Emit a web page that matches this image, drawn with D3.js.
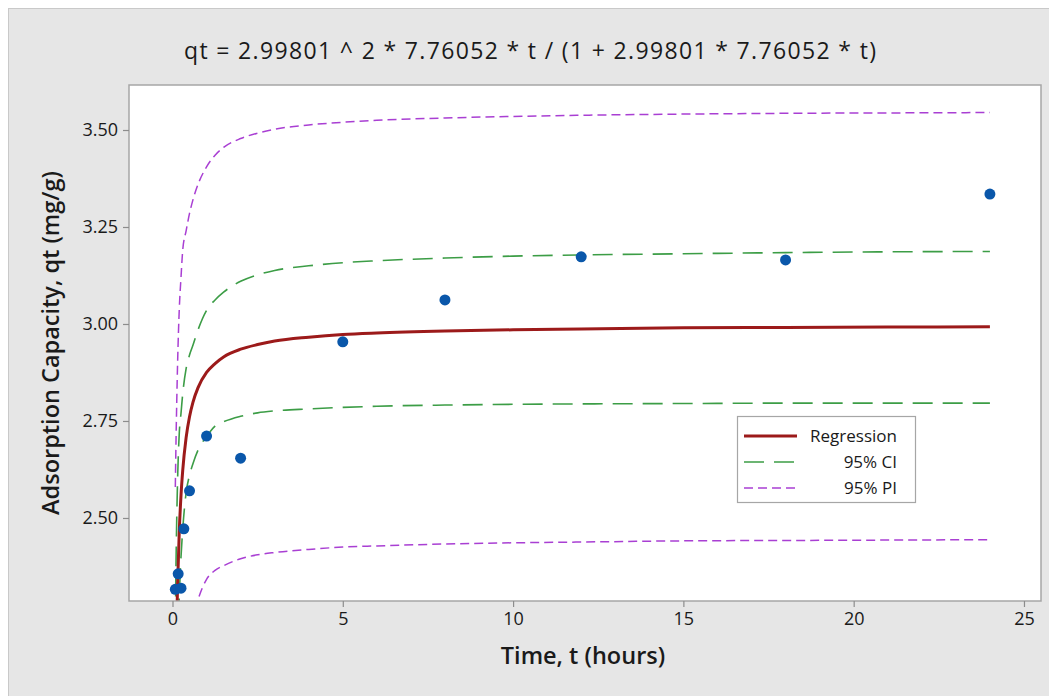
<!DOCTYPE html>
<html>
<head>
<meta charset="utf-8">
<script src="https://cdn.jsdelivr.net/npm/d3@7/dist/d3.min.js"></script>
<style>
  html, body { margin: 0; padding: 0; background: #ffffff; }
  svg { display: block; }
  text { font-family: "Open Sans", "Noto Sans", sans-serif; fill: #1a1a1a; }
</style>
</head>
<body>
<svg id="chart" width="1049" height="696"></svg>
<script>
// ---- Data ----
const titleText = "qt = 2.99801 ^ 2 * 7.76052 * t / (1 + 2.99801 * 7.76052 * t)";
const xLabel = "Time, t (hours)";
const yLabel = "Adsorption Capacity, qt (mg/g)";

// observed data points
const obsTime = [0.083, 0.167, 0.25, 0.333, 0.5, 1, 2, 5, 8, 12, 18, 24];
const obsQt   = [2.316, 2.356, 2.319, 2.472, 2.570, 2.711, 2.654, 2.954, 3.062, 3.173, 3.165, 3.335];

// time grid for the fitted curves
const curveTime = [0.083, 0.1, 0.125, 0.15, 0.2, 0.25, 0.3, 0.4, 0.5, 0.6, 0.75, 1, 1.25, 1.5, 2, 2.5, 3, 4, 5, 6, 8, 10, 12, 15, 18, 21, 24];
const regression = [1.975, 2.097, 2.231, 2.330, 2.468, 2.558, 2.622, 2.707, 2.761, 2.798, 2.836, 2.875, 2.898, 2.915, 2.935, 2.947, 2.956, 2.966, 2.973, 2.977, 2.982, 2.985, 2.987, 2.990, 2.991, 2.992, 2.993];
const ciUpper = [2.22, 2.36, 2.50, 2.60, 2.72, 2.77, 2.82, 2.885, 2.92, 2.945, 2.985, 3.035, 3.062, 3.082, 3.110, 3.127, 3.138, 3.150, 3.158, 3.163, 3.170, 3.175, 3.178, 3.181, 3.184, 3.186, 3.187];
const ciLower = [1.70, 1.85, 2.00, 2.15, 2.30, 2.40, 2.47, 2.565, 2.61, 2.64, 2.675, 2.71, 2.737, 2.748, 2.762, 2.771, 2.776, 2.781, 2.785, 2.788, 2.791, 2.793, 2.794, 2.795, 2.796, 2.796, 2.796];
const piUpper = [2.58, 2.68, 2.80, 2.90, 3.04, 3.12, 3.19, 3.24, 3.285, 3.32, 3.36, 3.405, 3.435, 3.455, 3.478, 3.492, 3.502, 3.513, 3.520, 3.525, 3.531, 3.535, 3.538, 3.541, 3.543, 3.544, 3.545];
const piLower = [1.40, 1.55, 1.70, 1.80, 1.93, 2.01, 2.07, 2.15, 2.21, 2.245, 2.29, 2.342, 2.365, 2.377, 2.395, 2.405, 2.411, 2.419, 2.425, 2.428, 2.433, 2.436, 2.438, 2.441, 2.442, 2.443, 2.444];

const xTicks = [0, 5, 10, 15, 20, 25];
const yTicks = [2.50, 2.75, 3.00, 3.25, 3.50];
const legendLabels = ["Regression", "95% CI", "95% PI"];

// ---- Layout ----
const W = 1049, H = 696;
const plot = { left: 129, right: 1041, top: 85, bottom: 601 };

const svg = d3.select("#chart");

// outer panel
svg.append("rect").attr("x", 0).attr("y", 0).attr("width", W).attr("height", H).attr("fill", "#ffffff");
svg.append("rect").attr("x", 8.5).attr("y", 8.5).attr("width", W - 8).attr("height", H - 8)
  .attr("fill", "#e6e6e6").attr("stroke", "#c9c9c9").attr("stroke-width", 1);

// scales
const x = d3.scaleLinear().domain([-1.277, 25.5]).range([plot.left, plot.right]);
const y = d3.scaleLinear().domain([2.286, 3.616]).range([plot.bottom, plot.top]);

// plot background
svg.append("rect").attr("x", plot.left).attr("y", plot.top)
  .attr("width", plot.right - plot.left).attr("height", plot.bottom - plot.top)
  .attr("fill", "#ffffff");

// clip
svg.append("defs").append("clipPath").attr("id", "clip")
  .append("rect").attr("x", plot.left).attr("y", plot.top)
  .attr("width", plot.right - plot.left).attr("height", plot.bottom - plot.top);

const g = svg.append("g").attr("clip-path", "url(#clip)");

const line = vals => d3.line()
  .x((d, i) => x(curveTime[i]))
  .y(d => y(d))
  .curve(d3.curveMonotoneX)(vals);

const styles = {
  pi: { color: "#a93fd3", width: 1.5, dash: "9,5" },
  ci: { color: "#3c9d46", width: 1.6, dash: "20,10" },
  reg: { color: "#9c1a1a", width: 3, dash: null }
};

[[piUpper, styles.pi], [piLower, styles.pi], [ciUpper, styles.ci], [ciLower, styles.ci], [regression, styles.reg]]
  .forEach(([vals, s]) => {
    g.append("path").attr("d", line(vals))
      .attr("fill", "none").attr("stroke", s.color).attr("stroke-width", s.width)
      .attr("stroke-dasharray", s.dash);
  });

// points
g.selectAll("circle.pt").data(obsTime).enter().append("circle")
  .attr("class", "pt")
  .attr("cx", d => x(d)).attr("cy", (d, i) => y(obsQt[i])).attr("r", 5.5)
  .attr("fill", "#0a57aa");

// plot border
svg.append("rect").attr("x", plot.left).attr("y", plot.top)
  .attr("width", plot.right - plot.left).attr("height", plot.bottom - plot.top)
  .attr("fill", "none").attr("stroke", "#a6a6a6").attr("stroke-width", 1.5);

// axes
const xAxis = d3.axisBottom(x).tickValues(xTicks).tickSize(6).tickPadding(5).tickFormat(d3.format("d"));
const yAxis = d3.axisLeft(y).tickValues(yTicks).tickSize(6).tickPadding(5).tickFormat(d3.format(".2f"));

const gx = svg.append("g").attr("transform", `translate(0,${plot.bottom})`).call(xAxis);
const gy = svg.append("g").attr("transform", `translate(${plot.left},0)`).call(yAxis);
[gx, gy].forEach(a => {
  a.select(".domain").remove();
  a.selectAll(".tick line").attr("stroke", "#8c8c8c").attr("stroke-width", 1.2);
  a.selectAll(".tick text").attr("font-size", 18).attr("fill", "#1a1a1a")
    .attr("font-family", "'Open Sans', sans-serif");
});

// title
svg.append("text").attr("x", 530).attr("y", 59).attr("text-anchor", "middle")
  .attr("font-size", 23).attr("textLength", 692).attr("lengthAdjust", "spacing")
  .text(titleText);

// axis labels
svg.append("text").attr("x", 583).attr("y", 664).attr("text-anchor", "middle")
  .attr("font-size", 23.5).attr("font-weight", 600).text(xLabel);
svg.append("text").attr("transform", `translate(59,343) rotate(-90)`).attr("text-anchor", "middle")
  .attr("font-size", 23.5).attr("font-weight", 600).text(yLabel);

// legend
const lg = svg.append("g");
lg.append("rect").attr("x", 737.5).attr("y", 416.5).attr("width", 178).attr("height", 86)
  .attr("fill", "#ffffff").attr("stroke", "#a6a6a6").attr("stroke-width", 1.2);
const legendStyles = [styles.reg, styles.ci, styles.pi];
const legendY = [436, 462, 488];
legendLabels.forEach((lab, i) => {
  const s = legendStyles[i];
  lg.append("line").attr("x1", 744).attr("x2", 797).attr("y1", legendY[i]).attr("y2", legendY[i])
    .attr("stroke", s.color).attr("stroke-width", s.width).attr("stroke-dasharray", s.dash);
  lg.append("text").attr("x", 897).attr("y", legendY[i] + 6).attr("text-anchor", "end")
    .attr("font-size", 17).text(lab);
});
</script>
</body>
</html>
